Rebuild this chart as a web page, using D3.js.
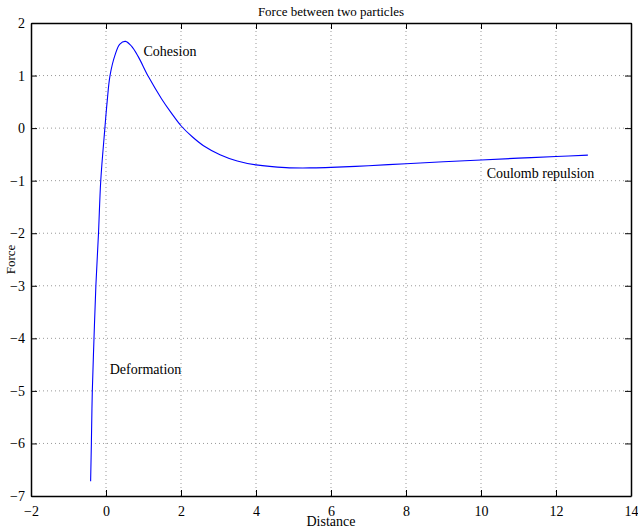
<!DOCTYPE html>
<html><head><meta charset="utf-8">
<script src="https://cdn.jsdelivr.net/npm/d3@7"></script>
<style>body{margin:0;background:#fff}svg{display:block}text{font-family:"Liberation Serif","Times New Roman",serif;}</style>
</head><body>
<svg id="c" width="638" height="529"></svg>
<script>
const distance = [-0.41,-0.39,-0.365,-0.32,-0.27,-0.2,-0.14,-0.03,0.03,0.107,0.24,0.37,0.52,0.68,0.86,1.13,1.48,1.75,2.0,2.3,2.6,3.04,3.5,4.0,4.8,5.5,6.0,7.0,8.0,9.0,10,11,12,12.85];
const force    = [-6.72,-6,-5,-4,-3,-2,-1,0,0.5,1,1.39,1.6,1.65,1.56,1.36,0.98,0.56,0.28,0.045,-0.165,-0.335,-0.505,-0.625,-0.7,-0.752,-0.757,-0.748,-0.715,-0.677,-0.641,-0.606,-0.572,-0.54,-0.514];
const xTicks = [-2,0,2,4,6,8,10,12,14];
const yTicks = [-7,-6,-5,-4,-3,-2,-1,0,1,2];
const labels = [
  {text:"Cohesion", x:1.0, y:1.45},
  {text:"Deformation", x:0.1, y:-4.6},
  {text:"Coulomb repulsion", x:10.15, y:-0.86}
];
const title = "Force between two particles", xLabel = "Distance", yLabel = "Force";

const svg = d3.select("#c");
const L=31, R=631, T=23, B=496;
const x = d3.scaleLinear().domain([-2,14]).range([L,R]);
const y = d3.scaleLinear().domain([-7,2]).range([B,T]);
const fmt = d => d<0 ? "\u2212"+Math.abs(d) : String(d);

// grid
svg.append("g").selectAll("line").data(xTicks.slice(1,-1)).join("line")
  .attr("x1",d=>x(d)).attr("x2",d=>x(d)).attr("y1",T).attr("y2",B)
  .attr("stroke","#999").attr("stroke-dasharray","1,3");
svg.append("g").selectAll("line").data(yTicks.slice(1,-1)).join("line")
  .attr("y1",d=>y(d)).attr("y2",d=>y(d)).attr("x1",L).attr("x2",R)
  .attr("stroke","#999").attr("stroke-dasharray","1,3");

// axes
const ax = svg.append("g").attr("transform",`translate(0,${B})`)
  .call(d3.axisBottom(x).tickValues(xTicks).tickFormat(fmt).tickSizeInner(-6).tickSizeOuter(0).tickPadding(10));
const ay = svg.append("g").attr("transform",`translate(${L},0)`)
  .call(d3.axisLeft(y).tickValues(yTicks).tickFormat(fmt).tickSizeInner(-6).tickSizeOuter(0).tickPadding(6));
const at = svg.append("g").attr("transform",`translate(0,${T})`)
  .call(d3.axisTop(x).tickValues(xTicks).tickFormat("").tickSizeInner(-6).tickSizeOuter(0));
const ar = svg.append("g").attr("transform",`translate(${R},0)`)
  .call(d3.axisRight(y).tickValues(yTicks).tickFormat("").tickSizeInner(-6).tickSizeOuter(0));
[ax,ay,at,ar].forEach(g=>{
  g.select(".domain").attr("stroke","#000").attr("stroke-width",1.5);
  g.selectAll(".tick line").attr("stroke","#000");
  g.selectAll("text").attr("font-size",14).attr("fill","#000").style("font-family",'"Liberation Serif",serif');
});
ax.selectAll("text").attr("dy","0.71em");
ay.selectAll("text").attr("dy","0.32em");

// line
const pts = distance.map((d,i)=>[d,force[i]]);
svg.append("path").datum(pts)
  .attr("d", d3.line().x(d=>x(d[0])).y(d=>y(d[1])).curve(d3.curveCatmullRom.alpha(0.5)))
  .attr("fill","none").attr("stroke","#0000ff").attr("stroke-width",1.1);

// annotations
svg.append("g").selectAll("text").data(labels).join("text")
  .attr("x",d=>x(d.x)).attr("y",d=>y(d.y)).attr("dy","0.32em")
  .attr("font-size",14).text(d=>d.text);

svg.append("text").attr("x",(L+R)/2).attr("y",16).attr("text-anchor","middle").attr("font-size",13).text(title);
svg.append("text").attr("x",(L+R)/2).attr("y",526).attr("text-anchor","middle").attr("font-size",14).text(xLabel);
svg.append("text").attr("transform",`translate(15,${(T+B)/2}) rotate(-90)`).attr("text-anchor","middle").attr("font-size",13).text(yLabel);
</script>
</body></html>
